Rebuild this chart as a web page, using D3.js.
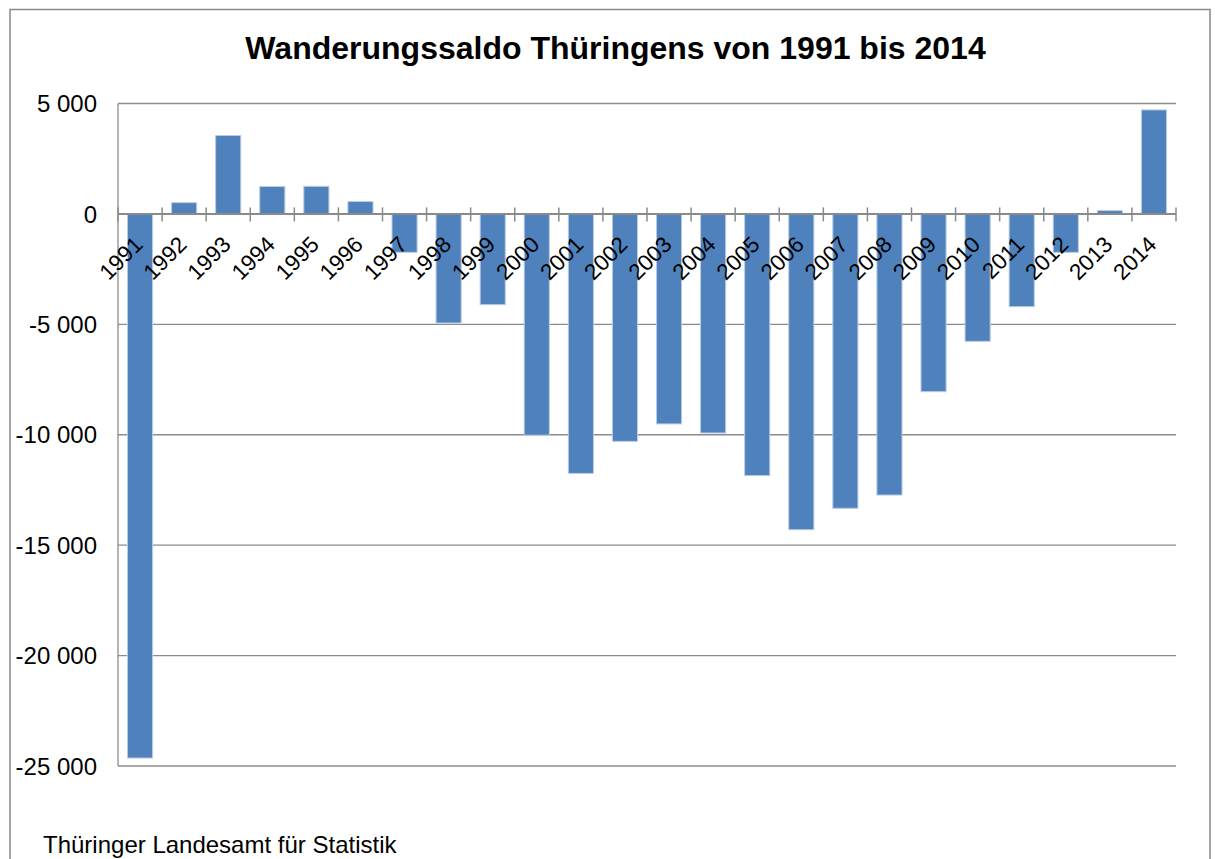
<!DOCTYPE html>
<html>
    <head>
        <meta charset="utf-8">
        <title>Wanderungssaldo Thüringen</title>
        <script type="text/javascript" src="https://d3js.org/d3.v7.min.js"></script>
        <style>
            body {margin: 0; background: #fff;}
            svg text {font-family: "Liberation Sans", Arial, sans-serif; fill: #000;}
        </style>
    </head>
    <body>
        <script>
            // Daten
            var jahre = ["1991","1992","1993","1994","1995","1996","1997","1998","1999","2000",
                         "2001","2002","2003","2004","2005","2006","2007","2008","2009","2010",
                         "2011","2012","2013","2014"];
            var saldo = [-24640, 510, 3550, 1240, 1250, 560, -1740, -4940, -4110, -10020,
                         -11750, -10300, -9510, -9920, -11850, -14300, -13330, -12730, -8050, -5770,
                         -4200, -1740, 150, 4710];
            var yTicks = [5000, 0, -5000, -10000, -15000, -20000, -25000];

            var width = 1215, height = 859;
            var margin = {left: 118, right: 39, top: 103.5, bottom: 93};

            var svg = d3.select("body")
                        .append("svg")
                        .attr("width", width)
                        .attr("height", height);

            // Rahmen
            svg.append("rect")
                .attr("x", 10).attr("y", 9.5)
                .attr("width", 1200).attr("height", 900)
                .attr("fill", "none")
                .attr("stroke", "#8a8a8a")
                .attr("stroke-width", 1.5);

            var x = d3.scaleBand()
                      .domain(jahre)
                      .range([margin.left, width - margin.right])
                      .paddingInner(0.43)
                      .paddingOuter(0.215);

            var y = d3.scaleLinear()
                      .domain([-25000, 5000])
                      .range([height - margin.bottom, margin.top]);

            var fmt = function(d) { return d3.format(",")(d).replace(/,/g, " ").replace("−", "-"); };

            // Gitterlinien
            svg.append("g")
                .selectAll("line")
                .data(yTicks.filter(function(d) { return d != 0; }))
                .enter()
                .append("line")
                    .attr("x1", margin.left)
                    .attr("x2", width - margin.right)
                    .attr("y1", function(d) { return y(d); })
                    .attr("y2", function(d) { return y(d); })
                    .attr("stroke", "#8c8c8c")
                    .attr("stroke-width", 1.3);

            // y-Achse
            svg.append("line")
                .attr("x1", margin.left).attr("x2", margin.left)
                .attr("y1", y(5000)).attr("y2", y(-25000))
                .attr("stroke", "#8c8c8c")
                .attr("stroke-width", 1.3);

            svg.append("g")
                .selectAll("text")
                .data(yTicks)
                .enter()
                .append("text")
                    .attr("x", 97)
                    .attr("y", function(d) { return y(d); })
                    .attr("dy", "0.36em")
                    .attr("text-anchor", "end")
                    .style("font-size", "24px")
                    .text(fmt);

            // Balken
            svg.append("g")
                .selectAll("rect")
                .data(saldo)
                .enter()
                .append("rect")
                    .attr("x", function(d, i) { return x(jahre[i]); })
                    .attr("width", x.bandwidth())
                    .attr("y", function(d) { return y(Math.max(0, d)); })
                    .attr("height", function(d) { return Math.abs(y(d) - y(0)); })
                    .attr("fill", "#4f81bd")
                    .attr("stroke", "#b9cde5")
                    .attr("stroke-width", 1);

            // Nulllinie mit Teilstrichen
            svg.append("line")
                .attr("x1", margin.left).attr("x2", width - margin.right)
                .attr("y1", y(0)).attr("y2", y(0))
                .attr("stroke", "#8a8a8a")
                .attr("stroke-width", 2);

            var step = x.step();
            var grenzen = d3.range(jahre.length + 1).map(function(i) { return margin.left + i * step; });
            svg.append("g")
                .selectAll("line")
                .data(grenzen)
                .enter()
                .append("line")
                    .attr("x1", function(d) { return d; })
                    .attr("x2", function(d) { return d; })
                    .attr("y1", y(0) - 6.5)
                    .attr("y2", y(0) + 7.5)
                    .attr("stroke", "#8a8a8a")
                    .attr("stroke-width", 1.5);

            // Jahreszahlen
            svg.append("g")
                .selectAll("text")
                .data(jahre)
                .enter()
                .append("text")
                    .attr("transform", function(d) {
                        return "translate(" + (x(d) + x.bandwidth() / 2 + 4) + "," + (y(0) + 32) + ") rotate(-45)";
                    })
                    .attr("text-anchor", "end")
                    .style("font-size", "22.5px")
                    .text(function(d) { return d; });

            // Titel
            svg.append("text")
                .attr("x", 615.5)
                .attr("y", 58.5)
                .attr("text-anchor", "middle")
                .style("font-size", "32px")
                .style("font-weight", "bold")
                .text("Wanderungssaldo Thüringens von 1991 bis 2014");

            // Quelle
            svg.append("text")
                .attr("x", 43)
                .attr("y", 853)
                .style("font-size", "24px")
                .text("Thüringer Landesamt für Statistik");
        </script>
    </body>
</html>
